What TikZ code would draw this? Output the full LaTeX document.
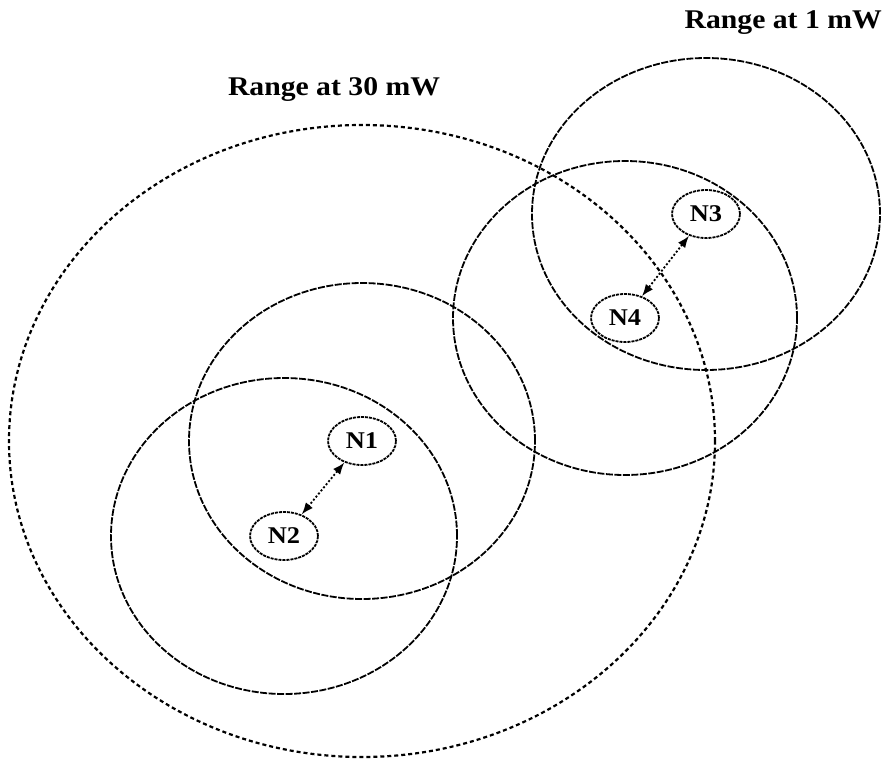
\documentclass[tikz,border=0pt]{standalone}
\usepackage{fontspec}
\setmainfont{Liberation Serif}
\newfontfamily\scanfont[FakeStretch=1.1]{Liberation Serif}
\usetikzlibrary{arrows.meta,shapes.geometric,positioning}

\begin{document}
\begin{tikzpicture}[x=1pt, y=-1pt,
  portata/.style={line width=1.8pt, dash pattern=on 7pt off 1.5pt},
  portatamax/.style={line width=2.2pt, dash pattern=on 4pt off 3pt},
  nodo/.style={ellipse, draw, line width=1.8pt, dash pattern=on 3pt off 1pt,
    minimum width=68pt, minimum height=48pt, inner sep=0pt,
    font=\scanfont\bfseries\fontsize{24}{26}\selectfont},
  etichetta/.style={font=\scanfont\bfseries\fontsize{27}{29}\selectfont, inner sep=0pt},
  link/.style={line width=1.8pt, dash pattern=on 2pt off 2pt,
    {Latex[length=12pt,width=9pt]}-{Latex[length=12pt,width=9pt]}}]
\useasboundingbox (0,0) rectangle (885,764);
% --- nodi ---
\node[nodo] (n1) at (362,441) {N1};
\node[nodo] (n2) at (284,536) {N2};
\node[nodo] (n3) at (706,214) {N3};
\node[nodo] (n4) at (625,318) {N4};
% --- raggi di copertura ---
\draw[portatamax] (n1) ellipse [x radius=353pt, y radius=316pt];
\draw[portata] (n1) ellipse [x radius=173pt, y radius=158pt];
\draw[portata] (n2) ellipse [x radius=173pt, y radius=158pt];
\draw[portata] (n3) ellipse [x radius=174pt, y radius=156pt];
\draw[portata] (n4) ellipse [x radius=172pt, y radius=157pt];
% --- collegamenti ---
\draw[link] (n1) -- (n2);
\draw[link] (n3) -- (n4);
% --- etichette ---
\node[etichetta, anchor=base] (l30) at (334,95) {Range at 30 mW};
\node[etichetta, anchor=base east] (l1) at (882,28) {Range at 1 mW};
\end{tikzpicture}
\end{document}
